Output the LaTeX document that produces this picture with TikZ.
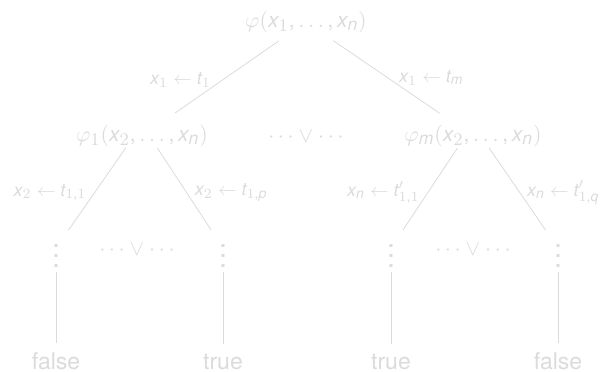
\documentclass[tikz,border=0pt]{standalone}
\usepackage{fontspec}
\setmainfont{TeX Gyre Heros}
\usepackage[italic]{mathastext}
\usetikzlibrary{positioning}
\colorlet{faint}{black!14}
\begin{document}
\begin{tikzpicture}[x=0.5pt,y=-0.5pt,font=\fontsize{11.5}{14}\selectfont,
 term/.style={text=faint,inner sep=0pt},
 formula/.style={term,font=\fontsize{10.5}{13}\selectfont},
 vdot/.style={term,anchor=base,scale=1.25},
 lbl/.style={text=faint,font=\fontsize{9}{11}\selectfont,inner sep=0pt},
 branch/.style={draw=faint,line width=0.4pt}]
\useasboundingbox (0,0) rectangle (605,371);
% formulas
\node[formula] (root) at (306,22) {$\varphi(x_1,\ldots,x_n)$};
\node[formula] (phi1) at (142,136) {$\varphi_1(x_2,\ldots,x_n)$};
\node[formula] (orm) at (306,136) {$\cdots\vee\cdots$};
\node[formula] (phim) at (473,136) {$\varphi_m(x_2,\ldots,x_n)$};
% dots
\node[vdot] (d11) at (56,267) {$\vdots$};
\node[vdot] (d1p) at (223,267) {$\vdots$};
\node[vdot] (dm1) at (391,267) {$\vdots$};
\node[vdot] (dmq) at (558,267) {$\vdots$};
\node[formula] (or1) at (137,249) {$\cdots\vee\cdots$};
\node[formula] (or2) at (473,249) {$\cdots\vee\cdots$};
% leaves
\node[term,anchor=base] (f1) at (56,369) {false};
\node[term,anchor=base] (t1) at (223,369) {true};
\node[term,anchor=base] (t2) at (391,369) {true};
\node[term,anchor=base] (f2) at (558,369) {false};
\draw[branch,shorten <=16.6pt,shorten >=20.2pt] (root.center) --
  node[lbl,pos=0.51,left=5.5pt] {$x_1\leftarrow t_1$} (phi1.center);
\draw[branch,shorten <=16.6pt,shorten >=20.2pt] (root.center) --
  node[lbl,pos=0.49,right=5.5pt] {$x_1\leftarrow t_m$} (phim.center);
\draw[branch,shorten <=14pt,shorten >=11pt] (phi1.north) --
  node[lbl,pos=0.55,left=4pt] {$x_2\leftarrow t_{1,1}$} (d11.center);
\draw[branch,shorten <=14pt,shorten >=11pt] (phi1.north) --
  node[lbl,pos=0.55,right=4pt] {$x_2\leftarrow t_{1,p}$} (d1p.center);
\draw[branch,shorten <=14pt,shorten >=11pt] (phim.north) --
  node[lbl,pos=0.55,left=4pt] {$x_n\leftarrow t'_{1,1}$} (dm1.center);
\draw[branch,shorten <=14pt,shorten >=11pt] (phim.north) --
  node[lbl,pos=0.55,right=3.5pt] {$x_n\leftarrow t'_{1,q}$} (dmq.center);
\foreach \a/\b in {d11/f1,d1p/t1,dm1/t2,dmq/f2}
  \draw[branch,shorten <=12pt,shorten >=8.8pt] (\a.center) -- (\b.center);
\end{tikzpicture}
\end{document}
